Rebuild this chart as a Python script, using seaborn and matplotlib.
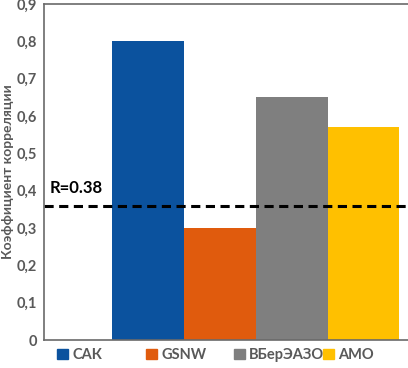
import pandas as pd
import matplotlib
matplotlib.use("Agg")
import matplotlib.pyplot as plt
import matplotlib.patches as mpatches
import seaborn as sns

# Correlation coefficients per index
categories = ["САК", "GSNW", "ВБерЭАЗО", "АМО"]
values = [0.80, 0.30, 0.65, 0.57]
colors = ["#0b529e", "#e05b0d", "#7f7f7f", "#ffc000"]
threshold = 0.36
threshold_label = "R=0.38"
yticks = [0, 0.1, 0.2, 0.3, 0.4, 0.5, 0.6, 0.7, 0.8, 0.9]
ytick_labels = ["0", "0,1", "0,2", "0,3", "0,4", "0,5", "0,6", "0,7", "0,8", "0,9"]

sns.set_style("white")
plt.rcParams["font.family"] = ["Lato", "DejaVu Sans"]

df = pd.DataFrame({"index": categories, "r": values})

fig = plt.figure(figsize=(4.08, 3.68), dpi=100)
ax = fig.add_axes([44 / 408, 28 / 368, 364 / 408, 336 / 368])

sns.barplot(data=df, x="index", y="r", hue="index", palette=colors,
            order=categories, hue_order=categories, width=1.0,
            saturation=1.0, linewidth=0, legend=False, ax=ax)

ax.axhline(threshold, color="black", linewidth=2.2, linestyle=(0, (3, 1.8)))
ax.text(-1.37, threshold + 0.025, threshold_label, fontsize=12,
        fontweight="bold", color="black", ha="left", va="bottom")

ax.set_xlim(-1.45, 3.62)
ax.set_ylim(0, 0.9)
ax.set_yticks(yticks)
ax.set_yticklabels(ytick_labels, fontsize=10.5, fontweight="bold", color="#595959")
ax.set_xticks([])
ax.set_xlabel("")
ax.set_ylabel("Коэффициент корреляции", fontsize=10, fontweight="bold",
              color="#595959", labelpad=2)
ax.tick_params(axis="y", length=0, pad=5)

for side in ["top", "left", "bottom"]:
    ax.spines[side].set_color("#6a6a6a")
    ax.spines[side].set_linewidth(1.2)
ax.spines["right"].set_visible(False)

# legend entries evenly spaced along the bottom
legend_x = [57 / 408, 146 / 408, 234 / 408, 323 / 408]
for k, c, lx in zip(categories, colors, legend_x):
    leg = fig.legend(handles=[mpatches.Patch(color=c, label=k)], loc="center left",
                     bbox_to_anchor=(lx, 13 / 368), frameon=False,
                     handlelength=0.75, handleheight=0.75, handletextpad=0.3,
                     borderpad=0, borderaxespad=0,
                     prop={"family": ["Lato", "DejaVu Sans"], "size": 10.5,
                           "weight": "bold"})
    for t in leg.get_texts():
        t.set_color("#595959")

fig.savefig("out.png", dpi=100)
